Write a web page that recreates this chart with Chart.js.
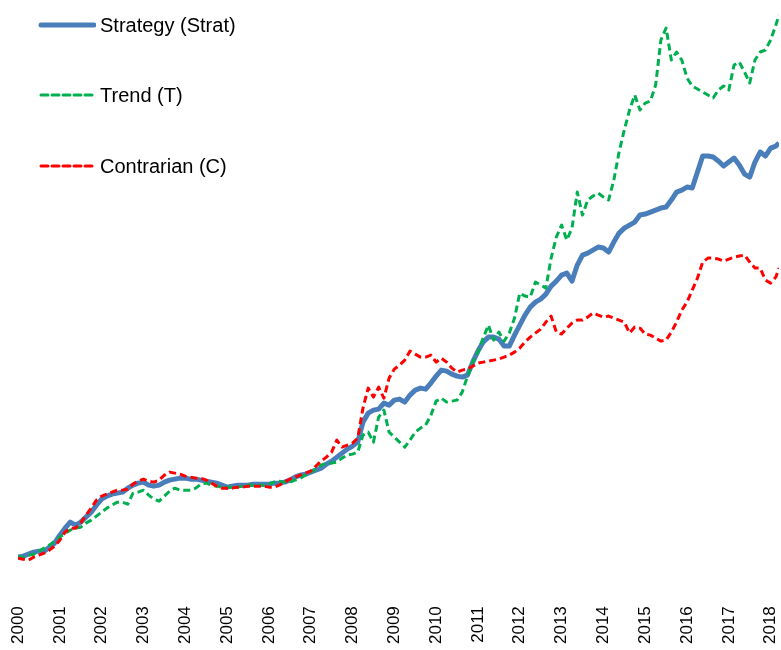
<!DOCTYPE html>
<html>
<head>
<meta charset="utf-8">
<script src="https://cdn.jsdelivr.net/npm/chart.js@4.4.1/dist/chart.umd.min.js"></script>
<style>
    body { margin: 0; background: #fff; }
    #wrap { position: relative; width: 781px; height: 650px; }
    #legend { position: absolute; left: 38px; top: 0; font-family: "Liberation Sans", Arial, sans-serif; font-size: 20px; color: #000; }
    .item { position: absolute; left: 0; display: flex; align-items: center; white-space: nowrap; }
    .item svg { margin-right: 4px; }
</style>
</head>
<body>
<div id="wrap">
    <canvas id="chart" width="781" height="650"></canvas>
    <div id="legend"></div>
</div>
<script>
// dates in decimal years, one point every 1/8 year
const dates = [
    2000, 2000.125, 2000.25, 2000.375, 2000.5, 2000.625, 2000.75, 2000.875,
    2001, 2001.125, 2001.25, 2001.375, 2001.5, 2001.625, 2001.75, 2001.875,
    2002, 2002.125, 2002.25, 2002.375, 2002.5, 2002.625, 2002.75, 2002.875,
    2003, 2003.125, 2003.25, 2003.375, 2003.5, 2003.625, 2003.75, 2003.875,
    2004, 2004.125, 2004.25, 2004.375, 2004.5, 2004.625, 2004.75, 2004.875,
    2005, 2005.125, 2005.25, 2005.375, 2005.5, 2005.625, 2005.75, 2005.875,
    2006, 2006.125, 2006.25, 2006.375, 2006.5, 2006.625, 2006.75, 2006.875,
    2007, 2007.125, 2007.25, 2007.375, 2007.5, 2007.625, 2007.75, 2007.875,
    2008, 2008.125, 2008.25, 2008.375, 2008.5, 2008.625, 2008.75, 2008.875,
    2009, 2009.125, 2009.25, 2009.375, 2009.5, 2009.625, 2009.75, 2009.875,
    2010, 2010.125, 2010.25, 2010.375, 2010.5, 2010.625, 2010.75, 2010.875,
    2011, 2011.125, 2011.25, 2011.375, 2011.5, 2011.625, 2011.75, 2011.875,
    2012, 2012.125, 2012.25, 2012.375, 2012.5, 2012.625, 2012.75, 2012.875,
    2013, 2013.125, 2013.25, 2013.375, 2013.5, 2013.625, 2013.75, 2013.875,
    2014, 2014.125, 2014.25, 2014.375, 2014.5, 2014.625, 2014.75, 2014.875,
    2015, 2015.125, 2015.25, 2015.375, 2015.5, 2015.625, 2015.75, 2015.875,
    2016, 2016.125, 2016.25, 2016.375, 2016.5, 2016.625, 2016.75, 2016.875,
    2017, 2017.125, 2017.25, 2017.375, 2017.5, 2017.625, 2017.75, 2017.875,
    2018, 2018.125, 2018.2
];

const yearTicks = [2000, 2001, 2002, 2003, 2004, 2005, 2006, 2007, 2008, 2009,
    2010, 2011, 2012, 2013, 2014, 2015, 2016, 2017, 2018];

const strategy = [
    43, 44, 46, 48, 49, 49, 53, 57,
    65, 72, 78, 75, 78, 83, 88, 95,
    101, 104, 106, 107, 108, 112, 115, 117,
    118, 115, 114, 115, 118, 120, 121, 122,
    122, 121, 121, 120, 119, 118, 117, 115,
    113, 114, 115, 115, 115, 116, 116, 116,
    116, 117, 117, 118, 120, 123, 125, 126,
    128, 130, 132, 136, 139, 143, 147, 151,
    154, 158, 178, 187, 190, 191, 197, 195,
    200, 201, 198, 205, 210, 212, 211, 217,
    224, 230, 229, 226, 224, 223, 225, 238,
    249, 258, 263, 263, 261, 254, 254, 265,
    275, 285, 293, 298, 301, 306, 314, 319,
    325, 327, 319, 335, 345, 347, 350, 353,
    352, 348, 358, 367, 372, 375, 378, 385,
    386, 388, 390, 392, 393, 400, 408, 410,
    413, 412, 428, 444, 444, 443, 439, 434,
    438, 442, 435, 426, 423, 438, 448, 444,
    452, 454, 457
];

const trend = [
    43, 43, 45, 46, 49, 52, 55, 59,
    63, 67, 70, 72, 73, 77, 80, 84,
    88, 92, 95, 98, 98, 96, 107, 108,
    110, 105, 101, 99, 104, 109, 112, 110,
    110, 110, 112, 116, 117, 115, 114, 113,
    113, 113, 113, 114, 115, 115, 115, 115,
    116, 118, 119, 118, 118, 120, 122, 125,
    128, 131, 135, 137, 137, 138, 142, 145,
    146, 148, 165, 168, 158, 183, 190, 168,
    163, 158, 153, 160, 168, 172, 175, 185,
    199, 202, 198, 199, 200, 208, 224, 238,
    248, 262, 275, 260, 268, 259, 267, 282,
    307, 304, 303, 318, 315, 312, 342, 363,
    375, 360, 372, 408, 385, 400, 404, 407,
    403, 400, 420, 448, 470, 490, 505, 490,
    497, 499, 515, 560, 572, 540, 548, 540,
    522, 514, 511, 508, 505, 502, 510, 514,
    510, 535, 538, 528, 517, 540, 548, 550,
    560, 575, 585
];

const contrarian = [
    42, 41, 40, 43, 45, 47, 50, 54,
    60, 68, 72, 72, 77, 85, 92, 100,
    104, 106, 108, 110, 110, 111, 116, 119,
    121, 119, 118, 120, 125, 128, 127, 126,
    124, 123, 122, 122, 120, 117, 114, 112,
    112, 112, 113, 113, 114, 114, 114, 114,
    113, 113, 115, 118, 121, 123, 125, 127,
    129, 134, 139, 143, 148, 160, 153, 155,
    157, 162, 192, 212, 203, 213, 202, 222,
    231, 235, 240, 249, 246, 243, 243, 245,
    238, 242, 238, 232, 228, 230, 231, 234,
    237, 238, 239, 240, 241, 243, 245, 248,
    252, 258, 263, 267, 271, 278, 284, 268,
    266, 272, 277, 280, 280, 283, 287, 285,
    283, 284, 282, 280, 278, 267, 273, 272,
    266, 265, 262, 259, 260, 268, 278, 290,
    298, 310, 322, 338, 342, 342, 341, 339,
    341, 343, 344, 345, 338, 332, 332, 320,
    317, 323, 332
];

const seriesInfo = [
    { label: 'Strategy (Strat)', values: strategy, color: '#4a7ebb', width: 5, dash: [] },
    { label: 'Trend (T)', values: trend, color: '#00b050', width: 3, dash: [7, 4] },
    { label: 'Contrarian (C)', values: contrarian, color: '#ff0000', width: 3, dash: [7, 4] }
];

function toPoints(values) {
    return values.map((v, i) => ({ x: dates[i], y: v }));
}

// legend drawn as html on top of the canvas
const legendTops = [25, 95, 166];
const legend = document.getElementById('legend');
seriesInfo.forEach((s, i) => {
    const div = document.createElement('div');
    div.className = 'item';
    div.style.top = (legendTops[i] - 12) + 'px';
    div.innerHTML = '<svg width="58" height="24"><line x1="3" y1="12" x2="56" y2="12" stroke="' + s.color +
        '" stroke-width="' + s.width + '" stroke-linecap="round" stroke-dasharray="' + s.dash.join(',') + '"/></svg>' +
        '<span>' + s.label + '</span>';
    legend.appendChild(div);
});

const ctx = document.getElementById('chart').getContext('2d');
new Chart(ctx, {
    type: 'line',
    data: {
        datasets: seriesInfo.slice().reverse().map(s => ({
            label: s.label,
            data: toPoints(s.values),
            borderColor: s.color,
            backgroundColor: s.color,
            borderWidth: s.width,
            borderDash: s.dash,
            borderJoinStyle: 'round',
            pointRadius: 0,
            tension: 0,
            fill: false
        }))
    },
    options: {
        responsive: false,
        animation: false,
        layout: { padding: { left: 18, right: 2, top: 0, bottom: 0 } },
        plugins: {
            legend: { display: false },
            tooltip: { enabled: false }
        },
        scales: {
            x: {
                type: 'linear',
                min: 2000,
                max: 2018.2,
                afterBuildTicks: axis => { axis.ticks = yearTicks.map(v => ({ value: v })); },
                afterFit: axis => { axis.paddingLeft = 0; axis.paddingRight = 0; },
                ticks: {
                    autoSkip: false,
                    minRotation: 90,
                    maxRotation: 90,
                    padding: 6,
                    color: '#000',
                    font: { family: '"Liberation Sans", Arial, sans-serif', size: 17 },
                    callback: v => String(v)
                },
                grid: { display: false, drawTicks: false },
                border: { display: false }
            },
            y: {
                display: false,
                min: 0,
                max: 600
            }
        }
    }
});
</script>
</body>
</html>
